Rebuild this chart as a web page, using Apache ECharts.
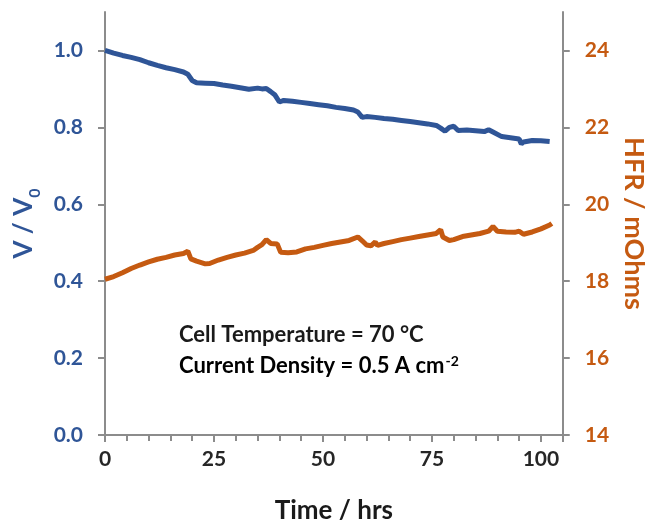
<!DOCTYPE html>
<html>
<head>
<meta charset="utf-8">
<script src="https://cdn.jsdelivr.net/npm/echarts@6/dist/echarts.min.js"></script>
<style>
  html, body { margin: 0; padding: 0; background: #fff; }
  #chart { width: 655px; height: 529px; }
</style>
</head>
<body>
<div id="chart"></div>
<script>
// V / V0 trace
const vHours = [0, 2, 4, 6, 8, 10, 12, 14, 16, 18, 19, 20, 21, 23, 25, 27, 29, 31, 33, 35, 36, 37, 38, 39, 40, 41, 43, 45, 47, 49, 51, 53, 55, 57, 58, 59, 60, 62, 64, 66, 68, 70, 72, 74, 76, 77, 78, 79, 80, 81, 83, 85, 87, 88, 89, 91, 93, 95, 95.5, 96, 98, 100, 102];
const vRatio = [1.000, 0.993, 0.987, 0.982, 0.976, 0.968, 0.961, 0.955, 0.950, 0.944, 0.938, 0.922, 0.916, 0.915, 0.914, 0.910, 0.907, 0.903, 0.899, 0.902, 0.900, 0.901, 0.893, 0.884, 0.866, 0.870, 0.868, 0.865, 0.862, 0.859, 0.856, 0.852, 0.849, 0.845, 0.840, 0.826, 0.828, 0.826, 0.823, 0.821, 0.818, 0.815, 0.812, 0.809, 0.805, 0.798, 0.790, 0.800, 0.803, 0.792, 0.793, 0.791, 0.789, 0.794, 0.788, 0.776, 0.773, 0.770, 0.757, 0.762, 0.766, 0.765, 0.763];

// HFR trace (mOhms)
const hfrHours = [0, 2, 4, 6, 8, 10, 12, 14, 16, 18, 19, 19.7, 21, 23, 24, 26, 28, 30, 32, 34, 35, 36, 37, 38, 39.5, 40.3, 42, 44, 46, 48, 50, 52, 54, 56, 58, 59, 60, 61, 62, 62.5, 64, 66, 68, 70, 72, 74, 76, 77, 77.5, 79, 80, 82, 84, 86, 88, 89, 90, 92, 94, 95, 96, 98, 100, 102, 102.5];
const hfrValues = [18.05, 18.12, 18.22, 18.33, 18.42, 18.50, 18.57, 18.62, 18.68, 18.72, 18.78, 18.58, 18.52, 18.45, 18.46, 18.55, 18.62, 18.68, 18.73, 18.80, 18.88, 18.95, 19.08, 18.98, 18.97, 18.75, 18.74, 18.76, 18.84, 18.88, 18.93, 18.98, 19.02, 19.06, 19.15, 19.05, 18.94, 18.92, 19.02, 18.93, 18.98, 19.03, 19.08, 19.12, 19.16, 19.20, 19.24, 19.34, 19.15, 19.06, 19.08, 19.16, 19.20, 19.24, 19.30, 19.42, 19.30, 19.28, 19.27, 19.30, 19.22, 19.28, 19.36, 19.46, 19.50];

const BLUE = '#2f5597';
const ORANGE = '#c55a11';
const AXIS = '#8c8c8c';
const FONT = 'Lato';

const chart = echarts.init(document.getElementById('chart'));

const axisCommon = {
    axisLine: { show: true, lineStyle: { color: AXIS, width: 2 } },
    axisTick: { show: true, inside: false, length: 7, lineStyle: { color: AXIS, width: 2 } },
    splitLine: { show: false }
};

const option = {
    animation: false,
    backgroundColor: '#fff',
    grid: { left: 105, right: 86, top: 12, bottom: 91 },
    xAxis: {
        type: 'value',
        min: 0, max: 105, interval: 25,
        name: 'Time / hrs',
        nameLocation: 'middle',
        nameGap: 63,
        nameTextStyle: { fontFamily: FONT, fontWeight: 'bold', fontSize: 26, color: '#1a1a1a' },
        ...axisCommon,
        minorTick: { show: true, splitNumber: 5, length: 6, lineStyle: { color: AXIS, width: 2 } },
        axisLabel: { showMaxLabel: false, margin: 14, fontFamily: FONT, fontWeight: 'bold', fontSize: 21, color: '#262626' }
    },
    yAxis: [{
        type: 'value',
        min: 0, max: 1.1, interval: 0.2,
        position: 'left',
        name: '{t|V / V}{s|0}',
        nameLocation: 'middle',
        nameRotate: 90,
        nameGap: 68,
        nameTextStyle: {
            rich: {
                t: { fontFamily: FONT, fontWeight: 'bold', fontSize: 26, color: BLUE },
                s: { fontFamily: FONT, fontWeight: 'bold', fontSize: 16, color: BLUE, verticalAlign: 'bottom', padding: [0, 0, -6, 0] }
            }
        },
        ...axisCommon,
        axisLabel: {
            showMaxLabel: false, margin: 22,
            fontFamily: FONT, fontWeight: 'bold', fontSize: 21, color: BLUE,
            formatter: v => v.toFixed(1)
        }
    }, {
        type: 'value',
        min: 14, max: 25, interval: 2,
        position: 'right',
        name: 'HFR / mOhms',
        nameLocation: 'middle',
        nameRotate: -90,
        nameGap: 52,
        nameTextStyle: { fontFamily: FONT, fontWeight: 'bold', fontSize: 27, color: ORANGE },
        ...axisCommon,
        axisLabel: { showMaxLabel: false, margin: 22, fontFamily: FONT, fontWeight: 'bold', fontSize: 21, color: ORANGE }
    }],
    series: [{
        name: 'V / V0',
        type: 'line',
        yAxisIndex: 0,
        showSymbol: false,
        lineStyle: { color: BLUE, width: 5 },
        data: vHours.map((h, i) => [h, vRatio[i]])
    }, {
        name: 'HFR',
        type: 'line',
        yAxisIndex: 1,
        showSymbol: false,
        lineStyle: { color: ORANGE, width: 5 },
        data: hfrHours.map((h, i) => [h, hfrValues[i]])
    }],
    graphic: [{
        type: 'text',
        left: 179, top: 324,
        style: {
            text: 'Cell Temperature = 70 °C',
            fontFamily: FONT, fontWeight: 'bold', fontSize: 22, fill: '#1a1a1a'
        }
    }, {
        type: 'text',
        left: 179, top: 354,
        style: {
            text: '{m|Current Density = 0.5 A cm}{u|-2}',
            rich: {
                m: { fontFamily: FONT, fontWeight: 'bold', fontSize: 22, color: '#1a1a1a' },
                u: { fontFamily: FONT, fontWeight: 'bold', fontSize: 14, color: '#1a1a1a', verticalAlign: 'top', padding: [0, 0, 9, 1] }
            }
        }
    }]
};

chart.setOption(option);
</script>
</body>
</html>
